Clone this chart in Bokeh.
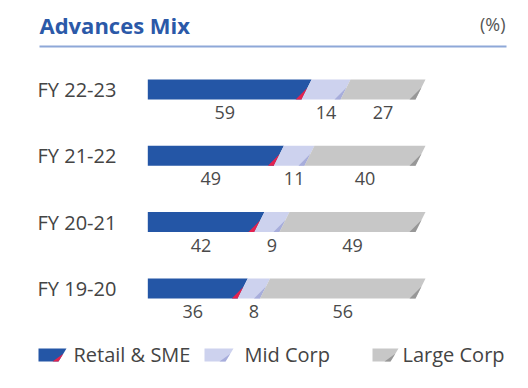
from bokeh.plotting import figure
from bokeh.models import Range1d
from bokeh.embed import file_html
from bokeh.resources import INLINE
from bokeh.core.properties import value

# ---------------- data ----------------
years = ["FY 22-23", "FY 21-22", "FY 20-21", "FY 19-20"]
retail_sme = [59, 49, 42, 36]
mid_corp = [14, 11, 9, 8]
large_corp = [27, 40, 49, 56]
series_names = ["Retail & SME", "Mid Corp", "Large Corp"]
title_text = "Advances Mix"
unit_text = "(%)"

# ---------------- layout / style ----------------
W, H = 512, 372
ZERO_PX, HUNDRED_PX = 147.3, 425.0     # frame pixels of 0 % and 100 %
UX = (HUNDRED_PX - ZERO_PX) / 100.0    # px per percent
ROW0_PX, ROW_STEP = 89.0, 66.3         # first bar centre, row spacing (px)

def px2x(fx):
    return (fx - ZERO_PX) / UX

def px2y(fy):
    return (fy - ROW0_PX) / ROW_STEP

def dx(px):
    return px / UX

def dy(px):
    return px / ROW_STEP

FONT = value("Open Sans")
colors = ["#2456a6", "#cdd2ee", "#c7c7c7"]
shades = ["#e3224f", "#a7addb", "#979797"]
TEXT_COL = "#444444"

p = figure(width=W, height=H, output_backend="svg", toolbar_location=None,
           x_range=Range1d(px2x(0), px2x(W)), y_range=Range1d(px2y(H), px2y(0)),
           x_axis_location=None, y_axis_location=None, min_border=0,
           outline_line_color=None, background_fill_color="white")
p.grid.visible = False

SLANT = dx(10)
HH = dy(10)

series = [retail_sme, mid_corp, large_corp]
cum = [0.0] * len(years)
for j, vals in enumerate(series):
    xs, ys, sx, sy, lx, ly, lt = [], [], [], [], [], [], []
    for i, v in enumerate(vals):
        start = cum[i]
        end = start + v
        top, bot = i - HH, i + HH
        start_bot = start - SLANT if j > 0 else start
        xs.append([start, end, end - SLANT, start_bot])
        ys.append([top, top, bot, bot])
        sx.append([end - SLANT - dx(6), end - SLANT, end - 0.4 * SLANT])
        sy.append([bot, bot, bot - 1.2 * HH])
        lx.append((start + end) / 2 - SLANT / 2)
        ly.append(i + dy(23))
        lt.append(str(v))
        cum[i] = end
    p.patches(xs, ys, fill_color=colors[j], line_color=None)
    p.patches(sx, sy, fill_color=shades[j], line_color=None)
    p.text(x=lx, y=ly, text=lt, text_font=FONT, text_font_size="18px",
           text_color="#4a4a4a", text_align="center", text_baseline="middle")

# category labels
p.text(x=[px2x(37)] * len(years), y=list(range(len(years))), text=years,
       text_font=FONT, text_font_size="20px", text_color=TEXT_COL,
       text_align="left", text_baseline="middle")

# title, rule, unit
p.text(x=[px2x(39)], y=[px2y(24)], text=[title_text], text_font=FONT,
       text_font_size="22px", text_font_style="bold", text_color="#2b59a8",
       text_align="left", text_baseline="middle")
p.line(x=[px2x(39), px2x(506)], y=[px2y(46), px2y(46)], line_color="#8ea8d8",
       line_width=2)
p.text(x=[px2x(505)], y=[px2y(23)], text=[unit_text], text_font=FONT,
       text_font_size="18px", text_color="#555555", text_align="right",
       text_baseline="middle")

# legend
sw_left = [38, 204, 372]
sw_right = [66, 233, 398]
txt_left = [73, 244, 402]
leg_top, leg_bot = px2y(348), px2y(361)
lsl = dx(8)
for j, name in enumerate(series_names):
    a, b = px2x(sw_left[j]), px2x(sw_right[j])
    p.patches([[a, b, b - lsl, a]], [[leg_top, leg_top, leg_bot, leg_bot]],
              fill_color=colors[j], line_color=None)
    p.patches([[b - lsl - dx(6), b - lsl, b - 0.4 * lsl]],
              [[leg_bot, leg_bot, leg_bot - 0.6 * (leg_bot - leg_top)]],
              fill_color=shades[j], line_color=None)
    p.text(x=[px2x(txt_left[j])], y=[px2y(354)], text=[name], text_font=FONT,
           text_font_size="20px", text_color=TEXT_COL, text_align="left",
           text_baseline="middle")

open("out.html", "w").write(file_html(p, INLINE))
